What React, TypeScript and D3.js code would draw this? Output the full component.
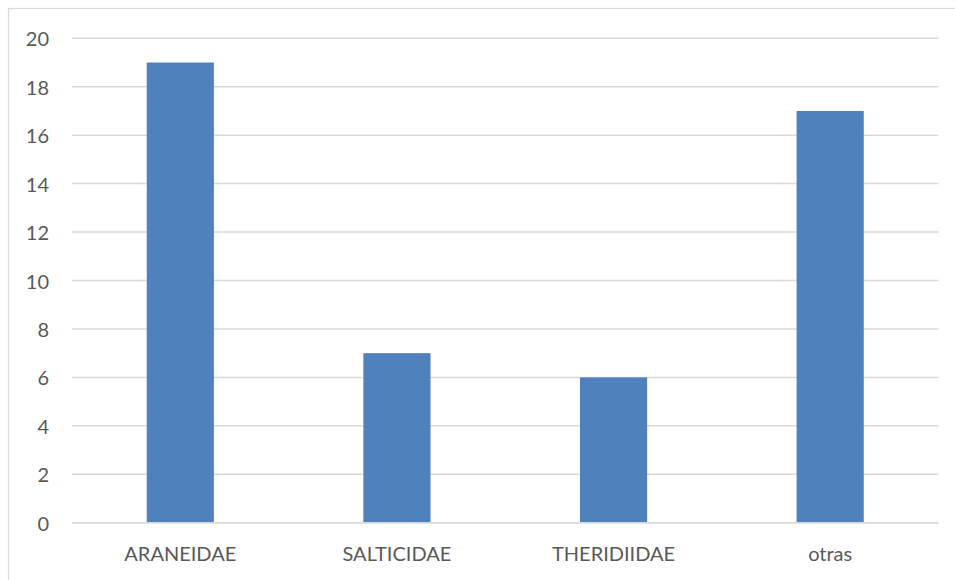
import React from "react";
import * as d3 from "d3";

const categories = ["ARANEIDAE", "SALTICIDAE", "THERIDIIDAE", "otras"];
const values = [19, 7, 6, 17];
const yTicks = [0, 2, 4, 6, 8, 10, 12, 14, 16, 18, 20];

const W = 955;
const H = 580;
const plotLeft = 72;
const plotRight = 938.5;
const plotTop = 38.3;
const plotBottom = 522.7;

export default function App() {
  const x = d3.scaleBand<string>().domain(categories).range([plotLeft, plotRight]).padding(0);
  const y = d3.scaleLinear().domain([0, 20]).range([plotBottom, plotTop]);
  const barW = x.bandwidth() * 0.31;
  const font = "Lato, 'Open Sans', sans-serif";
  const textColor = "#595959";
  return (
    <svg
      width={W}
      height={H}
      style={{ position: "absolute", left: 0, top: 0, background: "#fff" }}
    >
      <rect x={8.5} y={8.5} width={W + 10} height={H + 10} fill="#fff" stroke="#D9D9D9" strokeWidth={1.2} />
      {yTicks.map((t) => (
        <g key={t}>
          <line x1={plotLeft} x2={plotRight} y1={y(t)} y2={y(t)} stroke="#D9D9D9" strokeWidth={1.5} />
          <text
            x={49}
            y={y(t)}
            textAnchor="end"
            dominantBaseline="central"
            fontFamily={font}
            fontSize={20}
            fill={textColor}
          >
            {t}
          </text>
        </g>
      ))}
      {categories.map((c, i) => (
        <rect
          key={c}
          x={(x(c) as number) + x.bandwidth() / 2 - barW / 2}
          y={y(values[i])}
          width={barW}
          height={y(0) - y(values[i])}
          fill="#4F81BD"
        />
      ))}
      <line x1={plotLeft} x2={plotRight} y1={y(0)} y2={y(0)} stroke="#D9D9D9" strokeWidth={1.5} />
      {categories.map((c) => (
        <text
          key={c}
          x={(x(c) as number) + x.bandwidth() / 2}
          y={561}
          textAnchor="middle"
          fontFamily={font}
          fontSize={20}
          fill={textColor}
        >
          {c}
        </text>
      ))}
    </svg>
  );
}
